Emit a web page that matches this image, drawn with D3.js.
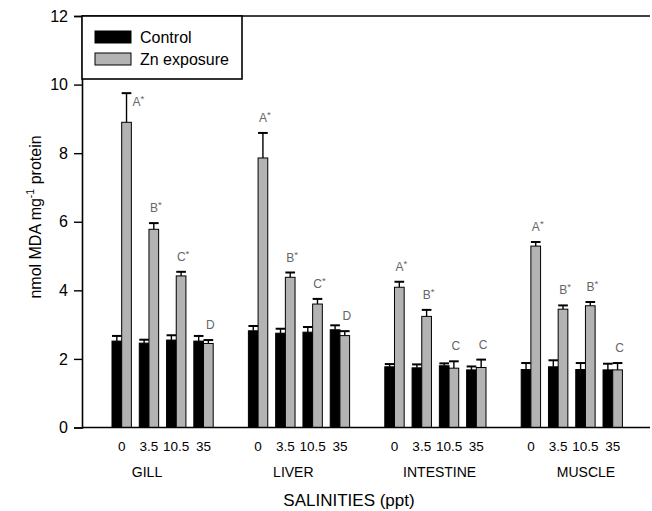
<!DOCTYPE html>
<html>
<head>
<meta charset="utf-8">
<script src="https://cdn.jsdelivr.net/npm/d3@7"></script>
<style>
  html, body { margin: 0; padding: 0; background: #fff; }
  svg { display: block; font-family: Arial, "Liberation Sans", sans-serif; }
</style>
</head>
<body>
<svg id="chart" width="652" height="511"></svg>
<script>
// Tissues and salinity treatments
const tissues = ["GILL", "LIVER", "INTESTINE", "MUSCLE"];
const salinities = ["0", "3.5", "10.5", "35"];
const seriesNames = ["Control", "Zn exposure"];

// MDA (nmol mg-1 protein), one row per tissue, one value per salinity
const controlMean = [
  [2.52, 2.46, 2.55, 2.52],
  [2.82, 2.75, 2.78, 2.85],
  [1.77, 1.74, 1.80, 1.68],
  [1.69, 1.77, 1.69, 1.68]
];
const controlErr = [
  [0.15, 0.10, 0.14, 0.15],
  [0.14, 0.13, 0.15, 0.13],
  [0.08, 0.10, 0.07, 0.10],
  [0.19, 0.19, 0.19, 0.18]
];
const znMean = [
  [8.90, 5.78, 4.42, 2.45],
  [7.86, 4.38, 3.60, 2.68],
  [4.09, 3.24, 1.73, 1.75],
  [5.29, 3.45, 3.55, 1.68]
];
const znErr = [
  [0.85, 0.18, 0.12, 0.10],
  [0.73, 0.14, 0.15, 0.13],
  [0.16, 0.19, 0.20, 0.23],
  [0.12, 0.11, 0.11, 0.20]
];
// Significance letters over the Zn bars
const sigLetters = [
  ["A", "B", "C", "D"],
  ["A", "B", "C", "D"],
  ["A", "B", "C", "C"],
  ["A", "B", "B", "C"]
];
const sigStar = [
  [true, true, true, false],
  [true, true, true, false],
  [true, true, false, false],
  [true, true, true, false]
];
const yTicks = [0, 2, 4, 6, 8, 10, 12];

const svg = d3.select("#chart");
const plot = { left: 82, right: 650, top: 16, bottom: 427.5 };

const y = d3.scaleLinear().domain([0, 12]).range([plot.bottom, plot.top]);

const xGroup = d3.scaleBand().domain(tissues)
  .range([94.4, 640]).paddingInner(0.2).paddingOuter(0.1);
const xSal = d3.scaleBand().domain(salinities)
  .range([0, xGroup.bandwidth()]).paddingInner(0.29).paddingOuter(0.145);
const xSeries = d3.scaleBand().domain(seriesNames).range([0, xSal.bandwidth()]);
const xGroupLabel = d3.scalePoint().domain(tissues).range([147, 586]);

const colors = { "Control": "#000000", "Zn exposure": "#b3b3b3" };

// flat records for drawing
const records = [];
tissues.forEach((t, gi) => {
  salinities.forEach((s, si) => {
    records.push({ t, s, series: "Control", v: controlMean[gi][si], e: controlErr[gi][si] });
    records.push({ t, s, series: "Zn exposure", v: znMean[gi][si], e: znErr[gi][si],
      letter: sigLetters[gi][si], star: sigStar[gi][si] });
  });
});
const barX = d => xGroup(d.t) + xSal(d.s) + xSeries(d.series);

// error bars (upper only)
const eb = svg.append("g").attr("stroke", "#000").attr("stroke-width", 1.4).attr("fill", "none");
records.forEach(d => {
  const cx = barX(d) + xSeries.bandwidth() / 2;
  eb.append("line").attr("x1", cx).attr("x2", cx).attr("y1", y(d.v)).attr("y2", y(d.v + d.e));
  eb.append("line").attr("x1", cx - xSeries.bandwidth() / 2).attr("x2", cx + xSeries.bandwidth() / 2)
    .attr("y1", y(d.v + d.e)).attr("y2", y(d.v + d.e)).attr("stroke-width", 2);
});

// bars
svg.append("g").selectAll("rect").data(records).join("rect")
  .attr("x", d => barX(d))
  .attr("y", d => y(d.v))
  .attr("width", xSeries.bandwidth())
  .attr("height", d => y(0) - y(d.v))
  .attr("fill", d => colors[d.series])
  .attr("stroke", "#000")
  .attr("stroke-width", 1);

// legend box
const legend = { x: plot.left, y: plot.top, w: 160, h: 63 };

// significance letters
const lab = svg.append("g").attr("fill", "#666").attr("font-size", 12);
records.filter(d => d.letter).forEach(d => {
  const top = y(d.v + d.e);
  let lx = barX(d) + xSeries.bandwidth() / 2 + 2;
  let ly = top - 11;
  // keep clear of the legend box: put the letter beside the cap instead
  if (ly - 10 < legend.y + legend.h && lx < legend.x + legend.w + 10) {
    lx = barX(d) + xSeries.bandwidth() + 7;
    ly = top + 13;
  }
  const t = lab.append("text").attr("x", lx).attr("y", ly).attr("text-anchor", "middle");
  t.append("tspan").text(d.letter);
  if (d.star) t.append("tspan").attr("dy", -4).attr("font-size", 9.5).text("*");
});

// y axis
const yAxis = svg.append("g").attr("transform", `translate(${plot.left},0)`)
  .call(d3.axisLeft(y).tickValues(yTicks).tickSize(8).tickPadding(6).tickFormat(d3.format("d")));
yAxis.selectAll("text").attr("font-size", 16).attr("fill", "#000")
  .attr("font-family", "Arial, 'Liberation Sans', sans-serif");
yAxis.selectAll("line").attr("stroke-width", 1.4);
yAxis.select(".domain").attr("stroke-width", 1.6);

// baseline and top frame
svg.append("line").attr("x1", plot.left).attr("x2", plot.right)
  .attr("y1", y(0)).attr("y2", y(0)).attr("stroke", "#000").attr("stroke-width", 1.6);
svg.append("line").attr("x1", plot.left).attr("x2", plot.right)
  .attr("y1", plot.top).attr("y2", plot.top).attr("stroke", "#000").attr("stroke-width", 1.4);

// salinity tick labels under each tissue
tissues.forEach(t => {
  const g = svg.append("g").attr("transform", `translate(${xGroup(t)},${y(0)})`)
    .call(d3.axisBottom(xSal).tickSize(0).tickPadding(14));
  g.select(".domain").remove();
  g.selectAll("text").attr("font-size", 13.5).attr("fill", "#000")
    .attr("font-family", "Arial, 'Liberation Sans', sans-serif");
});

// tissue names
svg.append("g").selectAll("text").data(tissues).join("text")
  .attr("x", d => xGroupLabel(d)).attr("y", 477)
  .attr("text-anchor", "middle").attr("font-size", 14).text(d => d);

// axis titles
svg.append("text").attr("x", 349).attr("y", 506).attr("text-anchor", "middle")
  .attr("font-size", 17).text("SALINITIES (ppt)");
const yt = svg.append("text").attr("transform", "translate(41,217) rotate(-90)")
  .attr("text-anchor", "middle").attr("font-size", 16);
yt.append("tspan").text("nmol MDA mg");
yt.append("tspan").attr("dy", -7).attr("font-size", 10.5).text("-1");
yt.append("tspan").attr("dy", 7).text(" protein");

// legend
const lg = svg.append("g");
lg.append("rect").attr("x", legend.x).attr("y", legend.y).attr("width", legend.w).attr("height", legend.h)
  .attr("fill", "#fff").attr("stroke", "#000").attr("stroke-width", 1.6);
seriesNames.forEach((n, i) => {
  lg.append("rect").attr("x", 95).attr("y", 31 + i * 22).attr("width", 36).attr("height", 12)
    .attr("fill", colors[n]).attr("stroke", "#000").attr("stroke-width", 1);
  lg.append("text").attr("x", 140).attr("y", 43 + i * 22).attr("font-size", 16).text(n);
});
</script>
</body>
</html>
